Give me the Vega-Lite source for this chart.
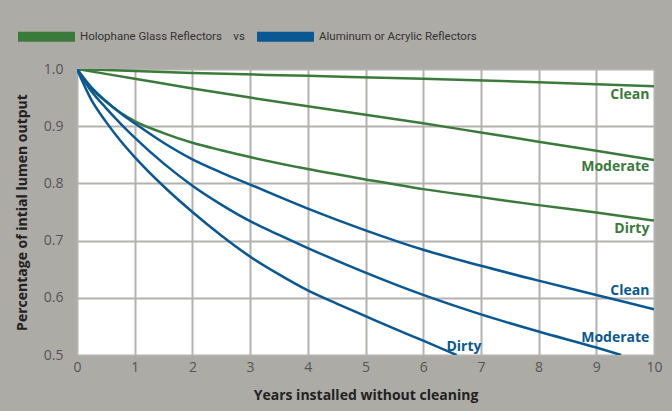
{
  "$schema": "https://vega.github.io/schema/vega-lite/v6.json",
  "width": 577,
  "height": 286,
  "autosize": {"type": "none"},
  "padding": {"left": 77, "top": 69, "right": 18, "bottom": 56},
  "background": "#adaba6",
  "config": {
    "view": {"fill": "white", "stroke": null},
    "font": "Open Sans",
    "axis": {
      "grid": true,
      "gridColor": "#b4b2ad",
      "gridWidth": 2,
      "domain": false,
      "ticks": false,
      "labelFont": "Open Sans",
      "labelFontSize": 14,
      "labelColor": "#555555",
      "labelFlush": false,
      "titleFont": "Open Sans",
      "titleFontSize": 14,
      "titleFontWeight": "bold",
      "titleColor": "#222222"
    }
  },
  "datasets": {
    "curves": [
      {"series": "Glass Clean", "group": "Holophane Glass Reflectors", "year": 0, "value": 1.0},
      {"series": "Glass Clean", "group": "Holophane Glass Reflectors", "year": 2, "value": 0.993},
      {"series": "Glass Clean", "group": "Holophane Glass Reflectors", "year": 4, "value": 0.988},
      {"series": "Glass Clean", "group": "Holophane Glass Reflectors", "year": 6, "value": 0.983},
      {"series": "Glass Clean", "group": "Holophane Glass Reflectors", "year": 8, "value": 0.977},
      {"series": "Glass Clean", "group": "Holophane Glass Reflectors", "year": 10, "value": 0.970},

      {"series": "Glass Moderate", "group": "Holophane Glass Reflectors", "year": 0, "value": 1.0},
      {"series": "Glass Moderate", "group": "Holophane Glass Reflectors", "year": 1, "value": 0.983},
      {"series": "Glass Moderate", "group": "Holophane Glass Reflectors", "year": 2, "value": 0.966},
      {"series": "Glass Moderate", "group": "Holophane Glass Reflectors", "year": 3, "value": 0.950},
      {"series": "Glass Moderate", "group": "Holophane Glass Reflectors", "year": 4, "value": 0.935},
      {"series": "Glass Moderate", "group": "Holophane Glass Reflectors", "year": 5, "value": 0.920},
      {"series": "Glass Moderate", "group": "Holophane Glass Reflectors", "year": 6, "value": 0.905},
      {"series": "Glass Moderate", "group": "Holophane Glass Reflectors", "year": 7, "value": 0.889},
      {"series": "Glass Moderate", "group": "Holophane Glass Reflectors", "year": 8, "value": 0.873},
      {"series": "Glass Moderate", "group": "Holophane Glass Reflectors", "year": 9, "value": 0.857},
      {"series": "Glass Moderate", "group": "Holophane Glass Reflectors", "year": 10, "value": 0.841},

      {"series": "Glass Dirty", "group": "Holophane Glass Reflectors", "year": 0, "value": 1.0},
      {"series": "Glass Dirty", "group": "Holophane Glass Reflectors", "year": 0.25, "value": 0.966},
      {"series": "Glass Dirty", "group": "Holophane Glass Reflectors", "year": 0.5, "value": 0.943},
      {"series": "Glass Dirty", "group": "Holophane Glass Reflectors", "year": 0.75, "value": 0.924},
      {"series": "Glass Dirty", "group": "Holophane Glass Reflectors", "year": 1, "value": 0.909},
      {"series": "Glass Dirty", "group": "Holophane Glass Reflectors", "year": 1.5, "value": 0.888},
      {"series": "Glass Dirty", "group": "Holophane Glass Reflectors", "year": 2, "value": 0.871},
      {"series": "Glass Dirty", "group": "Holophane Glass Reflectors", "year": 2.5, "value": 0.858},
      {"series": "Glass Dirty", "group": "Holophane Glass Reflectors", "year": 3, "value": 0.846},
      {"series": "Glass Dirty", "group": "Holophane Glass Reflectors", "year": 4, "value": 0.825},
      {"series": "Glass Dirty", "group": "Holophane Glass Reflectors", "year": 5, "value": 0.807},
      {"series": "Glass Dirty", "group": "Holophane Glass Reflectors", "year": 6, "value": 0.790},
      {"series": "Glass Dirty", "group": "Holophane Glass Reflectors", "year": 7, "value": 0.776},
      {"series": "Glass Dirty", "group": "Holophane Glass Reflectors", "year": 8, "value": 0.762},
      {"series": "Glass Dirty", "group": "Holophane Glass Reflectors", "year": 9, "value": 0.749},
      {"series": "Glass Dirty", "group": "Holophane Glass Reflectors", "year": 10, "value": 0.735},

      {"series": "Alu Clean", "group": "Aluminum or Acrylic Reflectors", "year": 0, "value": 1.0},
      {"series": "Alu Clean", "group": "Aluminum or Acrylic Reflectors", "year": 0.25, "value": 0.968},
      {"series": "Alu Clean", "group": "Aluminum or Acrylic Reflectors", "year": 0.5, "value": 0.944},
      {"series": "Alu Clean", "group": "Aluminum or Acrylic Reflectors", "year": 0.75, "value": 0.923},
      {"series": "Alu Clean", "group": "Aluminum or Acrylic Reflectors", "year": 1, "value": 0.905},
      {"series": "Alu Clean", "group": "Aluminum or Acrylic Reflectors", "year": 1.5, "value": 0.871},
      {"series": "Alu Clean", "group": "Aluminum or Acrylic Reflectors", "year": 2, "value": 0.842},
      {"series": "Alu Clean", "group": "Aluminum or Acrylic Reflectors", "year": 2.5, "value": 0.819},
      {"series": "Alu Clean", "group": "Aluminum or Acrylic Reflectors", "year": 3, "value": 0.798},
      {"series": "Alu Clean", "group": "Aluminum or Acrylic Reflectors", "year": 4, "value": 0.756},
      {"series": "Alu Clean", "group": "Aluminum or Acrylic Reflectors", "year": 5, "value": 0.718},
      {"series": "Alu Clean", "group": "Aluminum or Acrylic Reflectors", "year": 6, "value": 0.684},
      {"series": "Alu Clean", "group": "Aluminum or Acrylic Reflectors", "year": 7, "value": 0.656},
      {"series": "Alu Clean", "group": "Aluminum or Acrylic Reflectors", "year": 8, "value": 0.630},
      {"series": "Alu Clean", "group": "Aluminum or Acrylic Reflectors", "year": 9, "value": 0.605},
      {"series": "Alu Clean", "group": "Aluminum or Acrylic Reflectors", "year": 10, "value": 0.580},

      {"series": "Alu Moderate", "group": "Aluminum or Acrylic Reflectors", "year": 0, "value": 1.0},
      {"series": "Alu Moderate", "group": "Aluminum or Acrylic Reflectors", "year": 0.25, "value": 0.961},
      {"series": "Alu Moderate", "group": "Aluminum or Acrylic Reflectors", "year": 0.5, "value": 0.932},
      {"series": "Alu Moderate", "group": "Aluminum or Acrylic Reflectors", "year": 0.75, "value": 0.905},
      {"series": "Alu Moderate", "group": "Aluminum or Acrylic Reflectors", "year": 1, "value": 0.880},
      {"series": "Alu Moderate", "group": "Aluminum or Acrylic Reflectors", "year": 1.5, "value": 0.835},
      {"series": "Alu Moderate", "group": "Aluminum or Acrylic Reflectors", "year": 2, "value": 0.796},
      {"series": "Alu Moderate", "group": "Aluminum or Acrylic Reflectors", "year": 2.5, "value": 0.763},
      {"series": "Alu Moderate", "group": "Aluminum or Acrylic Reflectors", "year": 3, "value": 0.734},
      {"series": "Alu Moderate", "group": "Aluminum or Acrylic Reflectors", "year": 3.5, "value": 0.710},
      {"series": "Alu Moderate", "group": "Aluminum or Acrylic Reflectors", "year": 4, "value": 0.687},
      {"series": "Alu Moderate", "group": "Aluminum or Acrylic Reflectors", "year": 5, "value": 0.644},
      {"series": "Alu Moderate", "group": "Aluminum or Acrylic Reflectors", "year": 6, "value": 0.605},
      {"series": "Alu Moderate", "group": "Aluminum or Acrylic Reflectors", "year": 7, "value": 0.571},
      {"series": "Alu Moderate", "group": "Aluminum or Acrylic Reflectors", "year": 8, "value": 0.541},
      {"series": "Alu Moderate", "group": "Aluminum or Acrylic Reflectors", "year": 9, "value": 0.513},
      {"series": "Alu Moderate", "group": "Aluminum or Acrylic Reflectors", "year": 9.43, "value": 0.500},

      {"series": "Alu Dirty", "group": "Aluminum or Acrylic Reflectors", "year": 0, "value": 1.0},
      {"series": "Alu Dirty", "group": "Aluminum or Acrylic Reflectors", "year": 0.25, "value": 0.946},
      {"series": "Alu Dirty", "group": "Aluminum or Acrylic Reflectors", "year": 0.5, "value": 0.908},
      {"series": "Alu Dirty", "group": "Aluminum or Acrylic Reflectors", "year": 0.75, "value": 0.875},
      {"series": "Alu Dirty", "group": "Aluminum or Acrylic Reflectors", "year": 1, "value": 0.846},
      {"series": "Alu Dirty", "group": "Aluminum or Acrylic Reflectors", "year": 1.5, "value": 0.795},
      {"series": "Alu Dirty", "group": "Aluminum or Acrylic Reflectors", "year": 2, "value": 0.750},
      {"series": "Alu Dirty", "group": "Aluminum or Acrylic Reflectors", "year": 2.5, "value": 0.709},
      {"series": "Alu Dirty", "group": "Aluminum or Acrylic Reflectors", "year": 3, "value": 0.672},
      {"series": "Alu Dirty", "group": "Aluminum or Acrylic Reflectors", "year": 3.5, "value": 0.641},
      {"series": "Alu Dirty", "group": "Aluminum or Acrylic Reflectors", "year": 4, "value": 0.613},
      {"series": "Alu Dirty", "group": "Aluminum or Acrylic Reflectors", "year": 4.5, "value": 0.590},
      {"series": "Alu Dirty", "group": "Aluminum or Acrylic Reflectors", "year": 5, "value": 0.568},
      {"series": "Alu Dirty", "group": "Aluminum or Acrylic Reflectors", "year": 5.5, "value": 0.546},
      {"series": "Alu Dirty", "group": "Aluminum or Acrylic Reflectors", "year": 6, "value": 0.525},
      {"series": "Alu Dirty", "group": "Aluminum or Acrylic Reflectors", "year": 6.58, "value": 0.500}
    ],
    "labels": [
      {"label": "Clean", "group": "Holophane Glass Reflectors", "year": 9.92, "value": 0.954},
      {"label": "Moderate", "group": "Holophane Glass Reflectors", "year": 9.92, "value": 0.829},
      {"label": "Dirty", "group": "Holophane Glass Reflectors", "year": 9.92, "value": 0.721},
      {"label": "Clean", "group": "Aluminum or Acrylic Reflectors", "year": 9.92, "value": 0.612},
      {"label": "Moderate", "group": "Aluminum or Acrylic Reflectors", "year": 9.92, "value": 0.529},
      {"label": "Dirty", "group": "Aluminum or Acrylic Reflectors", "year": 7.01, "value": 0.514}
    ]
  },
  "layer": [
    {
      "data": {"name": "curves"},
      "mark": {"type": "line", "interpolate": "monotone", "strokeWidth": 2.5, "clip": true},
      "encoding": {
        "x": {
          "field": "year", "type": "quantitative",
          "scale": {"domain": [0, 10], "nice": false},
          "axis": {"values": [0,1,2,3,4,5,6,7,8,9,10], "format": "d", "labelPadding": 5, "title": "Years installed without cleaning", "titlePadding": 14}
        },
        "y": {
          "field": "value", "type": "quantitative",
          "scale": {"domain": [0.5, 1.0], "nice": false, "zero": false},
          "axis": {"values": [0.5,0.6,0.7,0.8,0.9,1.0], "format": ".1f", "labelPadding": 14, "title": "Percentage of intial lumen output", "titlePadding": 14}
        },
        "color": {
          "field": "group", "type": "nominal",
          "scale": {"domain": ["Holophane Glass Reflectors", "Aluminum or Acrylic Reflectors"], "range": ["#3a7a3b", "#0a5893"]},
          "legend": {
            "orient": "none", "legendX": -64, "legendY": -66, "direction": "horizontal", "title": null,
            "symbolType": "M-1,0H1", "symbolSize": 3249, "symbolStrokeWidth": 10,
            "labelFont": "Roboto", "labelFontSize": 11.5, "labelColor": "#333333", "labelLimit": 400,
            "labelOffset": 0, "columnPadding": -8,
            "labelExpr": "datum.label == 'Holophane Glass Reflectors' ? datum.label + '\u00a0\u00a0\u00a0\u00a0vs' : datum.label"
          }
        },
        "detail": {"field": "series", "type": "nominal"}
      }
    },
    {
      "data": {"name": "labels"},
      "mark": {"type": "text", "align": "right", "baseline": "middle", "font": "Open Sans", "fontSize": 14, "fontWeight": "bold"},
      "encoding": {
        "x": {"field": "year", "type": "quantitative"},
        "y": {"field": "value", "type": "quantitative"},
        "text": {"field": "label"},
        "color": {"field": "group", "type": "nominal", "legend": null}
      }
    }
  ]
}
